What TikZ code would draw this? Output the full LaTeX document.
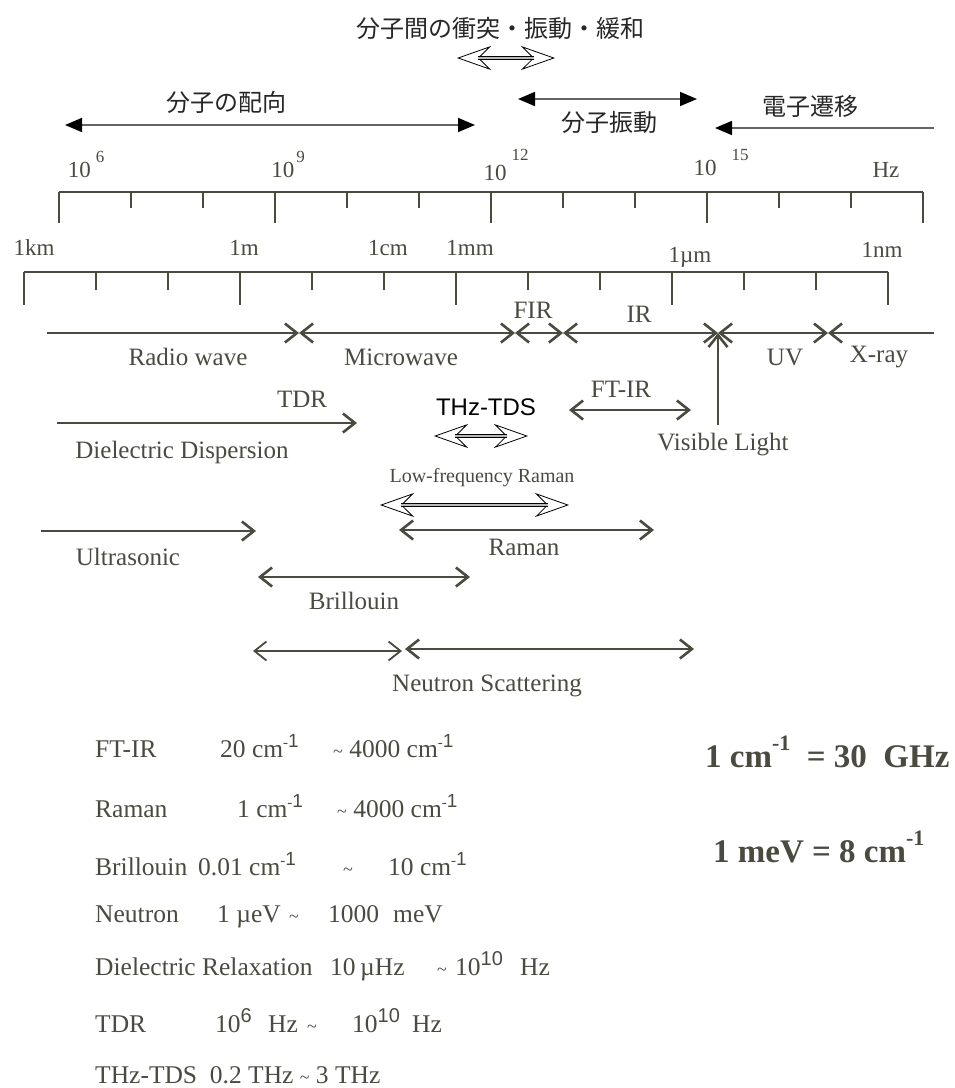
\documentclass[tikz,border=0pt]{standalone}
\usepackage{fontspec}
\setmainfont{Liberation Serif}
\newfontfamily\jpfont{Noto Sans CJK JP}
\newfontfamily\arialfont{Liberation Sans}
\usetikzlibrary{arrows.meta}
\definecolor{ink}{RGB}{74,74,64}
\definecolor{shaftgray}{RGB}{100,100,96}
\newcommand{\pw}[3]{10\hspace{#1}\raisebox{#2}{\fontsize{17}{17}\selectfont #3}}
\newcommand{\inv}[1][19]{\raisebox{10pt}{\fontsize{15}{15}\selectfont -{\arialfont\fontsize{#1}{#1}\selectfont 1}}}
\newcommand{\tenpow}[1]{10\raisebox{10pt}{\arialfont\fontsize{20}{20}\selectfont #1}}
\newcommand{\tld}{{\fontsize{18}{18}\selectfont\textasciitilde}}
\tikzset{
  lbl/.style={text=ink, font=\fontsize{25}{28}\selectfont, inner sep=0pt},
  scalelbl/.style={text=ink, font=\fontsize{23}{26}\selectfont, inner sep=0pt},
  jp/.style={font=\jpfont\fontsize{24}{28}\selectfont, text=black!85, inner sep=0pt},
  band/.style={draw=ink, line width=2.6pt, >={Straight Barb[length=12pt,width=19pt]}},
  thinband/.style={band, line width=1.8pt},
  topband/.style={draw=shaftgray, line width=1.6pt,
    >={Triangle[length=17pt,width=14pt,color=black]}},
  hollowtip/.style={draw=black, line width=0.8pt,
    {Stealth[open,fill=white,length=34pt,width=24pt,inset=12pt]}-{Stealth[open,fill=white,length=34pt,width=24pt,inset=12pt]}},
  hollowshaft/.style={draw=black, double=gray!55, double distance=2.4pt,
    line width=0.6pt, shorten <=21pt, shorten >=21pt},
  scaleline/.style={draw=ink, line width=2.6pt},
  scaletick/.style={draw=ink, line width=2pt},
  rangetxt/.style={text=ink, font=\fontsize{25.5}{30}\selectfont, anchor=base west, inner sep=0pt},
  convtxt/.style={text=ink, font=\bfseries\fontsize{33}{38}\selectfont, anchor=base west, inner sep=0pt}
}
\begin{document}
\begin{tikzpicture}[x=1pt,y=-1pt]
\useasboundingbox (0,0) rectangle (955,1088);

% molecular processes
\node[jp] (collide) at (500,28) {分子間の衝突・振動・緩和};
\coordinate (col0) at (457,58);
\coordinate (col1) at (555,58);
\draw[hollowtip] (col0) -- (col1);
\draw[hollowshaft] (col0) -- (col1);
\node[jp] (orient) at (226,102) {分子の配向};
\coordinate (or0) at (65,125);
\coordinate (or1) at (475,125);
\draw[topband,<->] (or0) -- (or1);
\coordinate (vib0) at (518,99);
\coordinate (vib1) at (697,99);
\draw[topband,<->] (vib0) -- (vib1);
\node[jp] (vib) at (609,122) {分子振動};
\node[jp] (elec) at (810,106) {電子遷移};
\coordinate (el0) at (934,128);
\coordinate (el1) at (715,128);
\draw[topband,->] (el0) -- (el1);

% frequency scale
\draw[scaleline] (59,192) -- (923,192);
\foreach \i in {0,...,12}{
  \pgfmathsetmacro\tl{mod(\i,3)==0 ? 31 : 16}
  \draw[scaletick] (59+72*\i,192) -- ++(0,\tl);
}
\node[scalelbl,anchor=base] (f6) at (86,177) {\pw{5pt}{15pt}{6}};
\node[scalelbl,anchor=base] (f9) at (288,177) {\pw{2pt}{15pt}{9}};
\node[scalelbl,anchor=base] (f12) at (506,180) {\pw{5pt}{20pt}{12}};
\node[scalelbl,anchor=base] (f15) at (721,175) {\pw{15pt}{15pt}{15}};
\node[scalelbl,anchor=base] (hz) at (886,177) {Hz};

% wavelength scale
\draw[scaleline] (24,272) -- (888,272);
\foreach \i in {0,...,12}{
  \pgfmathsetmacro\tl{mod(\i,3)==0 ? 33 : 18}
  \draw[scaletick] (24+72*\i,272) -- ++(0,\tl);
}
\node[scalelbl] (km) at (34,248) {1km};
\node[scalelbl] (m) at (244,248) {1m};
\node[scalelbl] (cm) at (388,248) {1cm};
\node[scalelbl] (mm) at (470,248) {1mm};
\node[scalelbl] (um) at (690,257) {1µm};
\node[scalelbl] (nm) at (882,250) {1nm};

% spectral bands
\coordinate (rw0) at (47,333);
\coordinate (rw1) at (299,333);
\coordinate (mw1) at (515,333);
\coordinate (fir1) at (563,333);
\coordinate (ir1) at (718,333);
\coordinate (uv1) at (828,333);
\coordinate (xr1) at (934,333);
\coordinate (vis0) at (718,425);
\draw[band,->] (rw0) -- (rw1);
\draw[band,<->] (rw1) -- (mw1);
\draw[band,<->] (mw1) -- (fir1);
\draw[band,<->] (fir1) -- (ir1);
\draw[band,<->] (ir1) -- (uv1);
\draw[band,<-] (uv1) -- (xr1);
\draw[band,->] (vis0) -- (ir1);
\node[lbl] (radio) at (188,357) {Radio wave};
\node[lbl] (micro) at (401,357) {Microwave};
\node[lbl] (fir) at (533,310) {FIR};
\node[lbl] (ir) at (639,314) {IR};
\node[lbl] (uv) at (785,357) {UV};
\node[lbl] (xray) at (879,357) {X-ray};
\node[lbl] (vis) at (723,445) {Visible Light};

% methods
\node[lbl] (ftirl) at (621,389) {FT-IR};
\coordinate (ft0) at (569,410);
\coordinate (ft1) at (691,410);
\draw[band,<->] (ft0) -- (ft1);
\node[lbl] (tdr) at (302,399) {TDR};
\coordinate (td0) at (57,423);
\coordinate (td1) at (357,423);
\draw[band,->] (td0) -- (td1);
\node[lbl] (diel) at (182,452) {Dielectric Dispersion};
\node[font=\arialfont\fontsize{24}{28}\selectfont, inner sep=0pt] (thz) at (486,407) {THz-TDS};
\coordinate (thz0) at (434,436);
\coordinate (thz1) at (528,436);
\draw[hollowtip] (thz0) -- (thz1);
\draw[hollowshaft] (thz0) -- (thz1);
\node[lbl, font=\fontsize{20}{24}\selectfont] (lfr) at (482,478) {Low-frequency Raman};
\coordinate (lf0) at (380,505);
\coordinate (lf1) at (569,505);
\draw[hollowtip] (lf0) -- (lf1);
\draw[hollowshaft] (lf0) -- (lf1);
\coordinate (ra0) at (399,530);
\coordinate (ra1) at (654,530);
\draw[band,<->] (ra0) -- (ra1);
\node[lbl] (raman) at (524,547) {Raman};
\coordinate (us0) at (41,531);
\coordinate (us1) at (256,531);
\draw[band,->] (us0) -- (us1);
\node[lbl] (ultra) at (128,557) {Ultrasonic};
\coordinate (br0) at (258,577);
\coordinate (br1) at (470,577);
\draw[band,<->] (br0) -- (br1);
\node[lbl] (brill) at (354,601) {Brillouin};
\coordinate (ns0) at (253,651);
\coordinate (ns1) at (402,651);
\coordinate (ns2) at (405,649);
\coordinate (ns3) at (694,649);
\draw[thinband,<->] (ns0) -- (ns1);
\draw[band,<->] (ns2) -- (ns3);
\node[lbl] (neut) at (487,686) {Neutron Scattering};

% ranges
\node[rangetxt] (r1a) at (95,757) {FT-IR};
\node[rangetxt] (r1b) at (220,757) {20 cm\inv};
\node[rangetxt] (r1c) at (333,757) {\tld{} 4000 cm\inv};
\node[rangetxt] (r2a) at (95,817) {Raman};
\node[rangetxt] (r2b) at (237,817) {1 cm\inv};
\node[rangetxt] (r2c) at (337,817) {\tld{} 4000 cm\inv};
\node[rangetxt] (r3a) at (95,875) {Brillouin};
\node[rangetxt] (r3b) at (198,875) {0.01 cm\inv};
\node[rangetxt] (r3c) at (343,875) {\tld};
\node[rangetxt] (r3d) at (388,875) {10 cm\inv};
\node[rangetxt] (r4a) at (95,922) {Neutron};
\node[rangetxt] (r4b) at (217,922) {1 µeV};
\node[rangetxt] (r4c) at (289,922) {\tld};
\node[rangetxt] (r4d) at (328,922) {1000};
\node[rangetxt] (r4e) at (393,922) {meV};
\node[rangetxt] (r5a) at (95,975) {Dielectric Relaxation};
\node[rangetxt] (r5b) at (330,975) {10};
\node[rangetxt] (r5c) at (360,975) {µHz};
\node[rangetxt] (r5d) at (437,975) {\tld};
\node[rangetxt] (r5e) at (455,975) {\tenpow{10}};
\node[rangetxt] (r5f) at (520,975) {Hz};
\node[rangetxt] (r6a) at (95,1032) {TDR};
\node[rangetxt] (r6b) at (215,1032) {\tenpow{6}};
\node[rangetxt] (r6c) at (268,1032) {Hz};
\node[rangetxt] (r6d) at (307,1032) {\tld};
\node[rangetxt] (r6e) at (352,1032) {\tenpow{10}};
\node[rangetxt] (r6f) at (412,1032) {Hz};
\node[rangetxt] (r7a) at (95,1083) {THz-TDS\ \ 0.2 THz \tld{} 3 THz};

% conversions
\node[convtxt] (conv1) at (705,767) {1 cm\raisebox{17pt}{\fontsize{22}{22}\selectfont -1}\ \ = 30\ \ GHz};
\node[convtxt] (conv2) at (713,862) {1 meV = 8 cm\raisebox{17pt}{\fontsize{22}{22}\selectfont -1}};
\end{tikzpicture}
\end{document}
